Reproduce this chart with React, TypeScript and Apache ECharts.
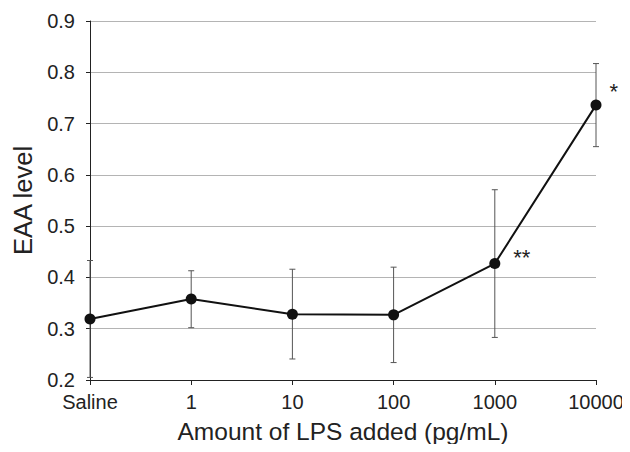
import React, { useEffect, useRef } from 'react';
import * as echarts from 'echarts';

const categories = ['Saline', '1', '10', '100', '1000', '10000'];
const meanValues = [0.319, 0.358, 0.328, 0.327, 0.427, 0.736];
const upperValues = [0.433, 0.413, 0.416, 0.42, 0.571, 0.817];
const lowerValues = [0.205, 0.302, 0.241, 0.234, 0.283, 0.655];
const significance = ['', '', '', '', '**', '*'];
const yMin = 0.2;
const yMax = 0.9;
const yStep = 0.1;

const FONT = '"Liberation Sans", Arial, Helvetica, sans-serif';

export default function App() {
  const ref = useRef<HTMLDivElement>(null);
  useEffect(() => {
    if (!ref.current) return;
    const chart = echarts.init(ref.current, null, { renderer: 'svg' });
    const labelOffsets: Record<string, { distance: number; offset: number[] }> = {
      '**': { distance: 13, offset: [0, -6] },
      '*': { distance: 8, offset: [0, -14] },
    };
    chart.setOption({
      animation: false,
      backgroundColor: '#ffffff',
      grid: { left: 90, right: 34, top: 21, bottom: 72, containLabel: false },
      xAxis: {
        type: 'category',
        data: categories,
        boundaryGap: false,
        name: 'Amount of LPS added (pg/mL)',
        nameLocation: 'middle',
        nameGap: 39,
        nameTextStyle: { fontFamily: FONT, fontSize: 24.5, color: '#222' },
        axisLine: { lineStyle: { color: '#222', width: 1 } },
        axisTick: { show: true, length: 5, lineStyle: { color: '#222' } },
        axisLabel: { fontFamily: FONT, fontSize: 20, color: '#222', margin: 12 },
        splitLine: { show: false },
      },
      yAxis: {
        type: 'value',
        min: yMin,
        max: yMax,
        interval: yStep,
        name: 'EAA level',
        nameLocation: 'middle',
        nameGap: 54,
        nameRotate: 90,
        nameTextStyle: { fontFamily: FONT, fontSize: 25.5, color: '#222' },
        axisLine: { show: true, lineStyle: { color: '#222', width: 1 } },
        axisTick: { show: true, length: 4, lineStyle: { color: '#222' } },
        axisLabel: {
          fontFamily: FONT,
          fontSize: 20,
          color: '#222',
          margin: 15,
          formatter: (v: number) => v.toFixed(1),
        },
        splitLine: { show: true, lineStyle: { color: '#b4b4b4', width: 1 } },
      },
      series: [
        {
          type: 'custom',
          name: 'error',
          clip: false,
          z: 1,
          data: categories.map((c, i) => [i, upperValues[i], lowerValues[i]]),
          encode: { x: 0, y: [1, 2] },
          renderItem: (params: any, api: any) => {
            const xi = api.value(0);
            const hi = api.coord([xi, api.value(1)]);
            const lo = api.coord([xi, api.value(2)]);
            const w = 3;
            const style = { stroke: '#555', lineWidth: 1 };
            return {
              type: 'group',
              children: [
                { type: 'line', shape: { x1: hi[0], y1: hi[1], x2: lo[0], y2: lo[1] }, style },
                { type: 'line', shape: { x1: hi[0] - w, y1: hi[1], x2: hi[0] + w, y2: hi[1] }, style },
                { type: 'line', shape: { x1: lo[0] - w, y1: lo[1], x2: lo[0] + w, y2: lo[1] }, style },
              ],
            };
          },
        },
        {
          type: 'line',
          name: 'EAA',
          z: 3,
          symbol: 'circle',
          symbolSize: 11,
          lineStyle: { color: '#111', width: 2 },
          itemStyle: { color: '#111' },
          data: meanValues.map((v, i) => {
            const s = significance[i];
            if (!s) return v;
            return {
              value: v,
              label: {
                show: true,
                formatter: s,
                position: 'right',
                distance: labelOffsets[s].distance,
                offset: labelOffsets[s].offset,
                fontFamily: FONT,
                fontSize: 22,
                color: '#222',
              },
            };
          }),
        },
      ],
    });
    return () => chart.dispose();
  }, []);
  return <div ref={ref} style={{ width: 630, height: 452, margin: -8 }} />;
}
